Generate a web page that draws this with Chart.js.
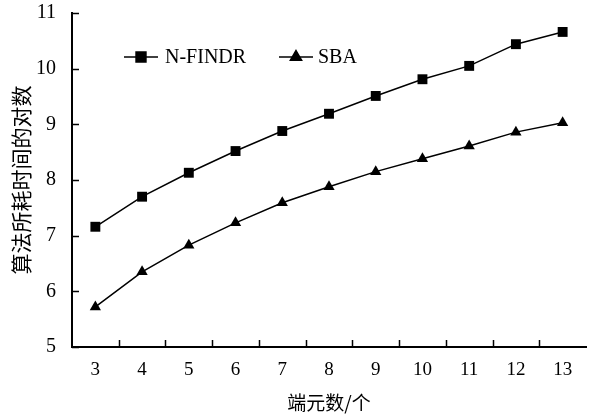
<!DOCTYPE html>
<html>
<head>
<meta charset="utf-8">
<script src="https://cdn.jsdelivr.net/npm/chart.js@4/dist/chart.umd.min.js"></script>
<style>
  html, body { margin: 0; padding: 0; background: #fff; }
  #wrap { width: 593px; height: 417px; }
</style>
</head>
<body>
<div id="wrap"><canvas id="chart" width="593" height="417"></canvas></div>
<script>
const categories = ['3', '4', '5', '6', '7', '8', '9', '10', '11', '12', '13'];
const nfindrValues = [7.16, 7.70, 8.13, 8.52, 8.88, 9.19, 9.51, 9.81, 10.05, 10.44, 10.66];
const sbaValues = [5.72, 6.35, 6.83, 7.23, 7.59, 7.88, 8.15, 8.38, 8.61, 8.86, 9.03];
const yTicks = [5, 6, 7, 8, 9, 10, 11];

const serif = '"Liberation Serif", "Times New Roman", serif';
const cjk = '"Noto Sans CJK SC", sans-serif';

// inner tick marks + legend drawn on top of the chart area
const decorations = {
  id: 'decorations',
  afterDraw(chart) {
    const ctx = chart.ctx;
    const x = chart.scales.x;
    const y = chart.scales.y;
    const area = chart.chartArea;
    ctx.save();
    ctx.strokeStyle = '#000';
    ctx.lineWidth = 1.5;
    ctx.beginPath();
    yTicks.forEach(v => {
      const py = Math.round(y.getPixelForValue(v)) + 0.5;
      ctx.moveTo(area.left, py);
      ctx.lineTo(area.left + 7, py);
    });
    const step = (x.right - x.left) / categories.length;
    for (let i = 1; i < categories.length; i++) {
      const px = Math.round(x.left + i * step) + 0.5;
      ctx.moveTo(px, area.bottom);
      ctx.lineTo(px, area.bottom - 7);
    }
    ctx.stroke();

    // legend
    const items = [
      { ds: chart.data.datasets[0], lx: 124, tx: 165 },
      { ds: chart.data.datasets[1], lx: 279, tx: 318 }
    ];
    const ly = 57;
    ctx.font = '20px ' + serif;
    ctx.textBaseline = 'middle';
    items.forEach(it => {
      ctx.beginPath();
      ctx.lineWidth = 1.5;
      ctx.moveTo(it.lx, ly);
      ctx.lineTo(it.lx + 34, ly);
      ctx.stroke();
      Chart.helpers.drawPoint(ctx, {
        pointStyle: it.ds.pointStyle,
        radius: it.ds.pointRadius,
        rotation: 0,
        borderWidth: 1
      }, it.lx + 17, ly);
      ctx.fillStyle = '#000';
      ctx.fill();
      ctx.fillText(it.ds.label, it.tx, ly + 1);
    });
    ctx.restore();
  }
};

new Chart(document.getElementById('chart'), {
  type: 'line',
  data: {
    labels: categories,
    datasets: [
      {
        label: 'N-FINDR',
        data: nfindrValues,
        borderColor: '#000',
        backgroundColor: '#000',
        borderWidth: 1.5,
        pointStyle: 'rect',
        pointRadius: 7,
        pointBorderWidth: 0,
        tension: 0
      },
      {
        label: 'SBA',
        data: sbaValues,
        borderColor: '#000',
        backgroundColor: '#000',
        borderWidth: 1.5,
        pointStyle: 'triangle',
        pointRadius: 6.5,
        pointBorderWidth: 0,
        tension: 0
      }
    ]
  },
  options: {
    responsive: false,
    animation: false,
    layout: { padding: { left: 0, right: 4, top: 13, bottom: 0 } },
    plugins: {
      legend: { display: false },
      tooltip: { enabled: false }
    },
    scales: {
      x: {
        type: 'category',
        offset: true,
        grid: { display: false },
        border: { display: true, color: '#000', width: 2 },
        ticks: {
          color: '#000',
          font: { family: serif, size: 19 },
          padding: 4,
          maxRotation: 0
        },
        title: {
          display: true,
          text: '端元数/个',
          color: '#000',
          font: { family: cjk, size: 19 },
          padding: { top: 0, bottom: 3 }
        },
        afterFit(scale) {
          scale.height = 70;
          scale.paddingLeft = 0;
          scale.paddingRight = 0;
        }
      },
      y: {
        min: 5,
        max: 11,
        afterBuildTicks(scale) { scale.ticks = yTicks.map(v => ({ value: v })); },
        grid: { display: false },
        border: { display: true, color: '#000', width: 2 },
        ticks: {
          color: '#000',
          font: { family: serif, size: 20 },
          padding: 8
        },
        title: {
          display: true,
          text: '算法所耗时间的对数',
          color: '#000',
          font: { family: cjk, size: 21 },
          padding: { top: 8, bottom: 0 }
        },
        afterFit(scale) {
          scale.width = 72;
          scale.paddingTop = 0;
          scale.paddingBottom = 0;
        }
      }
    }
  },
  plugins: [decorations]
});
</script>
</body>
</html>
